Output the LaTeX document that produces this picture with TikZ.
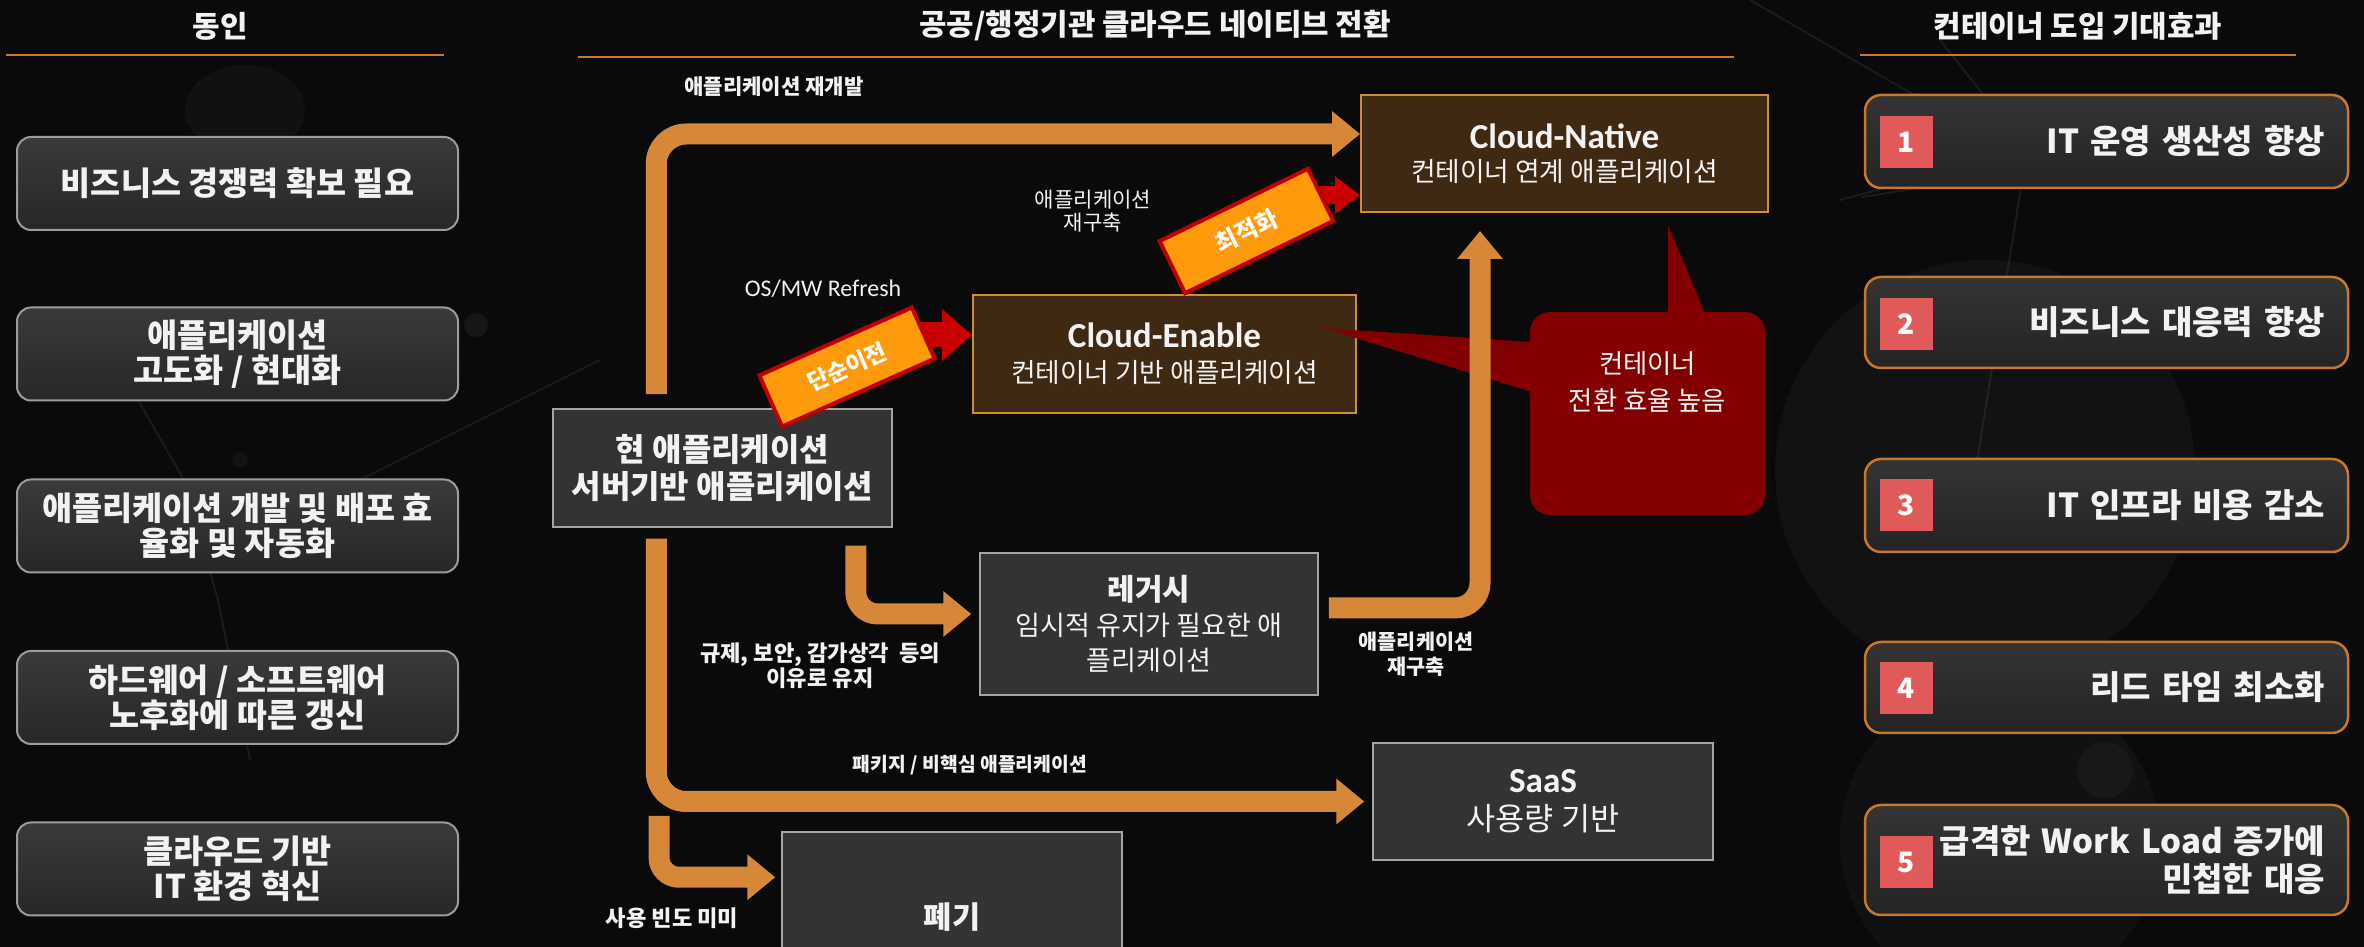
\documentclass[tikz,border=0pt]{standalone}
\usepackage{fontspec}
\setmainfont{Noto Sans CJK KR}
\newfontfamily\latf{Carlito}
\usetikzlibrary{arrows.meta}
\definecolor{bg}{HTML}{0A0A0A}
\definecolor{orarrow}{HTML}{D68838}
\definecolor{hdrline}{HTML}{C8782E}
\definecolor{lboxtop}{HTML}{3A3A3A}
\definecolor{lboxbot}{HTML}{272727}
\definecolor{boxline}{HTML}{9C9C9C}
\definecolor{rboxtop}{HTML}{343434}
\definecolor{rboxbot}{HTML}{242424}
\definecolor{rboxline}{HTML}{C8782C}
\definecolor{numred}{HTML}{E05A5A}
\definecolor{midgray}{HTML}{333333}
\definecolor{midline}{HTML}{A5A5A5}
\definecolor{brownfill}{HTML}{3F2912}
\definecolor{brownline}{HTML}{D08A3C}
\definecolor{calloutred}{HTML}{820000}
\definecolor{tagorange}{HTML}{FF9A0A}
\definecolor{tagred}{HTML}{C00000}
\definecolor{arrred}{HTML}{C80000}
\definecolor{txtw}{HTML}{F2F2F2}
\newcommand\setfs[2]{\fontsize{#1pt}{#2pt}\selectfont}
\begin{document}
\begin{tikzpicture}[x=0.1mm,y=-0.1mm,
  hdr/.style={text=txtw,font=\bfseries\setfs{8.5}{10},inner sep=0},
  hline/.style={draw=hdrline,line width=0.2mm},
  lbox/.style={draw=boxline,line width=0.2mm,rounded corners=1.4mm,top color=lboxtop,bottom color=lboxbot,minimum width=44.1mm,minimum height=9.3mm,text=txtw,align=center,font=\bfseries\setfs{9.3}{10},inner sep=0},
  rbox/.style={draw=rboxline,line width=0.25mm,rounded corners=1.6mm,top color=rboxtop,bottom color=rboxbot,minimum width=48.3mm,text width=43.7mm,inner xsep=2.3mm,inner ysep=0,align=right,text=txtw,font=\bfseries\setfs{9.4}{10.8}},
  numsq/.style={fill=numred,minimum width=5.3mm,minimum height=5.2mm,inner sep=0,text=white,font=\bfseries\setfs{8}{8}},
  gbox/.style={draw=midline,line width=0.15mm,fill=midgray,text=txtw,align=center,inner sep=0},
  cbox/.style={draw=brownline,line width=0.2mm,fill=brownfill,text=txtw,align=center,inner sep=0},
  oarrow/.style={draw=orarrow,line width=2.1mm,-{Triangle[length=2.8mm,width=4.4mm]}},
  rarrowa/.style={draw=arrred,line width=2.5mm,-{Triangle[length=3mm,width=5mm]}},
  rarrowb/.style={draw=arrred,line width=1.8mm,-{Triangle[length=2.5mm,width=3.6mm]}},
  tagbox/.style={fill=tagorange,draw=tagred,line width=0.4mm,text=white,inner sep=0},
  lbl/.style={text=txtw,align=center,inner sep=0},
  deco/.style={draw=white,opacity=0.07,line width=0.2mm},
  callout/.style={fill=calloutred,rounded corners=2mm,text=txtw,align=center,inner sep=0}
]
\useasboundingbox (0,0) rectangle (2364,947);
\begin{scope}
\clip (0,0) rectangle (2364,947);
% background
\fill[bg] (0,0) rectangle (2364,947);
\fill[white,opacity=0.035] (1985,470) circle [radius=21mm];
\fill[white,opacity=0.03] (2000,840) circle [radius=16mm];
\fill[white,opacity=0.03] (2105,770) circle [radius=2.8mm];
\fill[white,opacity=0.05] (476,325) circle [radius=1.2mm];
\fill[white,opacity=0.04] (240,460) circle [radius=0.8mm];
\fill[white,opacity=0.06] (2027,150) circle [radius=1mm];
\fill[white,opacity=0.03] (245,110) ellipse [x radius=6mm, y radius=4.5mm];
\draw[deco] (88,313) -- (184,480);
\draw[deco] (360,480) -- (600,360);
\draw[deco] (184,480) -- (218,600) -- (250,760);
\draw[deco] (1750,0) -- (1940,110);
\draw[deco] (1940,40) -- (2027,150) -- (1974,480);
\draw[deco] (1840,200) -- (2027,150);
\draw[deco] (1862,197) -- (1920,188);

% headers
\node[hdr] (h1) at (220,26) {동인};
\node[hdr] (h2) at (1155,26) {공공/행정기관 클라우드 네이티브 전환};
\node[hdr] (h3) at (2078,26) {컨테이너 도입 기대효과};
\draw[hline] (6,55) -- (444,55);
\draw[hline] (578,57) -- (1734,57);
\draw[hline] (1860,55) -- (2296,55);

% left boxes
\node[lbox] (l1) at (237.5,183.5) {비즈니스 경쟁력 확보 필요};
\node[lbox] (l2) at (237.5,354) {애플리케이션\\고도화 / 현대화};
\node[lbox] (l3) at (237.5,526) {애플리케이션 개발 및 배포 효\\율화 및 자동화};
\node[lbox] (l4) at (237.5,697.5) {하드웨어 / 소프트웨어\\노후화에 따른 갱신};
\node[lbox] (l5) at (237.5,869) {클라우드 기반\\IT 환경 혁신};

% right boxes
\node[rbox,minimum height=9.3mm] (r1) at (2106.5,141.5) {IT 운영 생산성 향상};
\node[rbox,minimum height=9.1mm] (r2) at (2106.5,322.5) {비즈니스 대응력 향상};
\node[rbox,minimum height=9.3mm] (r3) at (2106.5,505.5) {IT 인프라 비용 감소};
\node[rbox,minimum height=9.1mm] (r4) at (2106.5,687.5) {리드 타임 최소화};
\node[rbox,minimum height=11mm] (r5) at (2106.5,860) {급격한 Work Load 증가에\\민첩한 대응};
\node[numsq] (n1) at (1906.5,142.5) {1};
\node[numsq] (n2) at (1906.5,324) {2};
\node[numsq] (n3) at (1906.5,505.5) {3};
\node[numsq] (n4) at (1906.5,688) {4};
\node[numsq] (n5) at (1906.5,862.5) {5};

% center boxes
\node[gbox,minimum width=33.9mm,minimum height=11.8mm,font=\bfseries\setfs{9.1}{10.5}] (cur) at (722.5,468) {현 애플리케이션\\서버기반 애플리케이션};
\node[cbox,minimum width=38.3mm,minimum height=11.8mm,font=\setfs{7.6}{10}] (ce) at (1164.5,354) {{\latf\bfseries\setfs{10}{10}Cloud-Enable}\\컨테이너 기반 애플리케이션};
\node[cbox,minimum width=40.7mm,minimum height=11.7mm,font=\setfs{7.6}{9.4}] (cn) at (1564.5,153.5) {{\latf\bfseries\setfs{10}{9.4}Cloud-Native}\\컨테이너 연계 애플리케이션};
\node[gbox,minimum width=33.8mm,minimum height=14.2mm,font=\setfs{7.7}{10}] (leg) at (1149,624) {{\bfseries\setfs{8.5}{10}레거시}\\임시적 유지가 필요한 애\\플리케이션};
\node[gbox,minimum width=34mm,minimum height=11.7mm,font=\setfs{9}{10.8}] (saas) at (1543,801.5) {{\latf\bfseries\setfs{10}{10.8}SaaS}\\사용량 기반};
\node[gbox,minimum width=34mm,minimum height=17mm,font=\bfseries\setfs{8.7}{10}] (pg) at (952,917) {폐기};

% callout
\fill[calloutred] (1668,225) -- (1668,330) -- (1712,330) -- cycle;
\fill[calloutred] (1323,328) -- (1545,343) -- (1545,396) -- cycle;
\node[callout,minimum width=23.5mm,minimum height=20.3mm,font=\setfs{7.5}{10.5},text depth=6.5mm] (co) at (1647.5,413.5) {컨테이너\\전환 효율 높음};

% orange arrows
\draw[oarrow,rounded corners=3mm] ([xshift=10.4mm,yshift=1.4mm]cur.north west) |- ([yshift=1.95mm]cn.west);
\draw[oarrow,rounded corners=3mm] ([xshift=10.4mm,yshift=-1.1mm]cur.south west) |- ([xshift=-0.8mm]saas.west);
\coordinate (a3s) at (659,816);
\draw[oarrow,rounded corners=2mm] (a3s) |- ([xshift=-0.6mm,yshift=-4.6mm]pg.north west);
\draw[oarrow,rounded corners=2.2mm] ([xshift=-3.7mm,yshift=-1.8mm]cur.south east) |- ([xshift=-0.8mm,yshift=1mm]leg.west);
\draw[oarrow,rounded corners=2.5mm] ([xshift=1mm,yshift=1.6mm]leg.east) -| ([xshift=-8.45mm,yshift=-1.8mm]cn.south);

% red arrows and tags
\draw[rarrowa] ([xshift=-6mm,yshift=1.9mm]ce.west) -- ([yshift=1.9mm]ce.west);
\draw[rarrowb] ([xshift=-5mm,yshift=-4.15mm]cn.west) -- ([yshift=-4.15mm]cn.west);
\node[tagbox,minimum width=16.7mm,minimum height=5.6mm,rotate=24,font=\bfseries\setfs{6.5}{7}] (t1) at (847,367) {단순이전};
\node[tagbox,minimum width=16.5mm,minimum height=5.8mm,rotate=26,font=\bfseries\setfs{6.8}{7}] (t2) at (1246.5,231) {최적화};

% labels
\node[lbl,font=\bfseries\setfs{6}{7}] (lb1) at (774,87) {애플리케이션 재개발};
\node[lbl,font=\setfs{6}{6.5}] (lb2) at (1093,211.5) {애플리케이션\\재구축};
\node[lbl,font=\latf\setfs{6.8}{7}] (lb3) at (823,289) {OS/MW Refresh};
\node[lbl,font=\bfseries\setfs{6.3}{7.1}] (lb4) at (820,665.5) {규제, 보안, 감가상각~~등의\\이유로 유지};
\node[lbl,font=\bfseries\setfs{5.5}{6}] (lb5) at (970,765) {패키지 / 비핵심 애플리케이션};
\node[lbl,font=\bfseries\setfs{6.3}{7}] (lb6) at (672,918) {사용 빈도 미미};
\node[lbl,font=\bfseries\setfs{5.9}{7.1}] (lb7) at (1416,654.5) {애플리케이션\\재구축};
\end{scope}
\end{tikzpicture}
\end{document}
